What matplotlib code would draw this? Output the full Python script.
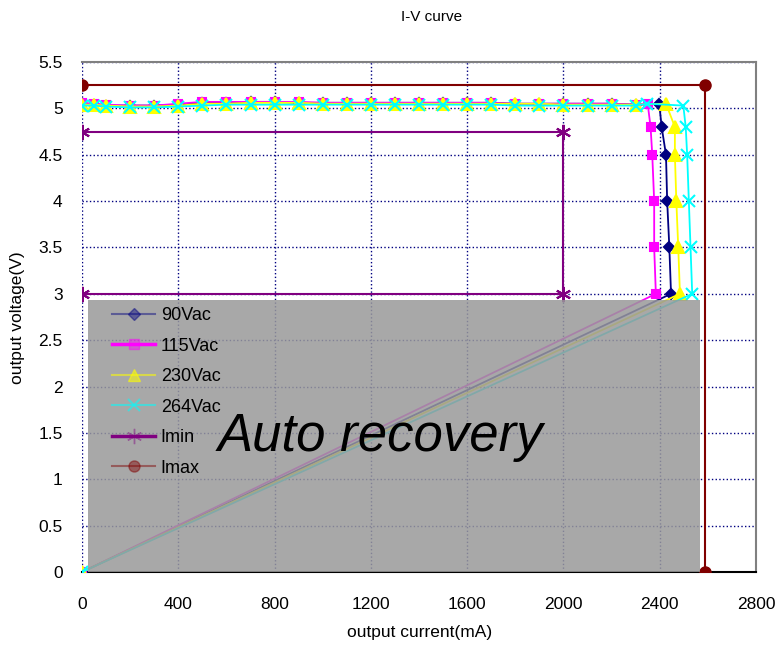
import matplotlib
matplotlib.use('Agg')
import matplotlib.pyplot as plt
from matplotlib.patches import Rectangle
from matplotlib.lines import Line2D

plt.rcParams['font.family'] = ['Liberation Sans', 'DejaVu Sans']

# 平台段电流点 (mA)
flat_x = [0, 50, 100, 200, 300, 400, 500, 600, 700, 800, 900, 1000, 1100, 1200,
          1300, 1400, 1500, 1600, 1700, 1800, 1900, 2000, 2100, 2200, 2300]

v90_flat = [5.05, 5.04, 5.03, 5.03, 5.03, 5.04, 5.06, 5.06, 5.07, 5.07, 5.06, 5.06, 5.06,
            5.06, 5.06, 5.06, 5.06, 5.06, 5.06, 5.05, 5.05, 5.05, 5.05, 5.05, 5.04]
v115_flat = [5.06, 5.05, 5.04, 5.03, 5.03, 5.05, 5.07, 5.07, 5.07, 5.07, 5.07, 5.06, 5.06,
             5.06, 5.06, 5.06, 5.06, 5.06, 5.06, 5.05, 5.05, 5.05, 5.05, 5.05, 5.04]
v230_flat = [5.04, 5.04, 5.03, 5.02, 5.02, 5.03, 5.05, 5.05, 5.06, 5.06, 5.06, 5.05, 5.05,
             5.05, 5.05, 5.05, 5.05, 5.05, 5.05, 5.05, 5.05, 5.04, 5.04, 5.04, 5.04]
v264_flat = [5.03, 5.03, 5.02, 5.01, 5.01, 5.02, 5.03, 5.04, 5.04, 5.04, 5.04, 5.04, 5.04,
             5.04, 5.04, 5.04, 5.04, 5.04, 5.04, 5.03, 5.03, 5.03, 5.03, 5.03, 5.03]

# 拐点段 + 回到原点
i90_knee = [2398, 2408, 2426, 2431, 2440, 2447, 0]
v90_knee = [5.05, 4.8, 4.5, 4.0, 3.5, 3.0, 0]
i115_knee = [2350, 2362, 2369, 2377, 2377, 2384, 0]
v115_knee = [5.05, 4.8, 4.5, 4.0, 3.5, 3.0, 0]
i230_knee = [2426, 2463, 2463, 2469, 2477, 2484, 0]
v230_knee = [5.05, 4.8, 4.5, 4.0, 3.5, 3.0, 0]
i264_knee = [2348, 2498, 2508, 2514, 2521, 2528, 2535, 0]
v264_knee = [5.05, 5.03, 4.8, 4.5, 4.0, 3.5, 3.0, 0]

imin_x = [0, 2000, 2000, 0]
imin_y = [4.75, 4.75, 3.0, 3.0]
imax_x = [0, 2590, 2590]
imax_y = [5.25, 5.25, 0]

x_ticks = [0, 400, 800, 1200, 1600, 2000, 2400, 2800]
y_ticks = [0, 0.5, 1, 1.5, 2, 2.5, 3, 3.5, 4, 4.5, 5, 5.5]
y_labels = ['0', '0.5', '1', '1.5', '2', '2.5', '3', '3.5', '4', '4.5', '5', '5.5']

W, H = 780, 646
fig = plt.figure(figsize=(W / 100, H / 100), dpi=100)
ax = fig.add_axes([82 / W, (H - 572) / H, (756 - 82) / W, (572 - 62) / H])

series = [
    ('90Vac', v90_flat, i90_knee, v90_knee, '#000080', 'D', 5.5),
    ('115Vac', v115_flat, i115_knee, v115_knee, '#FF00FF', 's', 6),
    ('230Vac', v230_flat, i230_knee, v230_knee, '#FFFF00', '^', 8.5),
    ('264Vac', v264_flat, i264_knee, v264_knee, '#00FFFF', 'x', 8.5),
]
for name, vf, ik, vk, c, m, ms in series:
    xs = flat_x + ik
    ys = vf + vk
    ax.plot(xs, ys, color=c, marker=m, markersize=ms, lw=1.3, mew=1.5, zorder=3)

ax.plot(imin_x, imin_y, color='#800080', marker=(6, 2, 0), markersize=11, mew=1.5,
        lw=1.5, zorder=3)
ax.plot(imax_x, imax_y, color='#800000', marker='o', markersize=8, lw=1.5, zorder=3)

# 灰色遮罩
ax.add_patch(Rectangle((25, 0), 2542, 2.93, facecolor='#999999', edgecolor='none',
                       alpha=0.85, zorder=4))

ax.set_xlim(0, 2800)
ax.set_ylim(0, 5.5)
ax.set_xticks(x_ticks)
ax.set_yticks(y_ticks)
ax.set_yticklabels(y_labels)
ax.tick_params(length=0, labelsize=12.5)
ax.tick_params(axis='x', pad=18)
ax.tick_params(axis='y', pad=14)
ax.grid(True, color='#000080', linestyle=':', lw=1)
ax.set_axisbelow(True)

for s in ['top', 'right']:
    ax.spines[s].set_color('#808080')
    ax.spines[s].set_linewidth(1.5)
ax.spines['left'].set_visible(False)
ax.spines['bottom'].set_color('black')
ax.spines['bottom'].set_linewidth(1.5)

fig.text(432 / W, 1 - 17 / H, 'I-V curve', ha='center', va='center', fontsize=11)
fig.text(420 / W, 1 - 633 / H, 'output current(mA)', ha='center', va='center', fontsize=12.5)
fig.text(18 / W, 1 - 318 / H, 'output voltage(V)', ha='center', va='center',
         rotation=90, fontsize=12.5)

# 图例（淡化）
fa = 0.45
handles = [
    Line2D([], [], color='#000080', marker='D', markersize=6, lw=1.5, alpha=fa),
    (Line2D([], [], color='#FF00FF', lw=2.5),
     Line2D([], [], color='#FF00FF', marker='s', markersize=7, lw=0, alpha=fa)),
    Line2D([], [], color='#FFFF00', marker='^', markersize=9, lw=1.5, alpha=0.55),
    Line2D([], [], color='#00FFFF', marker='x', markersize=9, mew=1.5, lw=1.5, alpha=0.55),
    (Line2D([], [], color='#800080', lw=2.5),
     Line2D([], [], color='#800080', marker=(6, 2, 0), markersize=11, lw=0, alpha=fa)),
    Line2D([], [], color='#800000', marker='o', markersize=8, lw=1.5, alpha=fa),
]
labels = ['90Vac', '115Vac', '230Vac', '264Vac', 'Imin', 'Imax']
leg = ax.legend(handles, labels, loc='upper left',
                bbox_to_anchor=(112 / W, 1 - 307 / H), bbox_transform=fig.transFigure,
                frameon=False, fontsize=13, handlelength=2.4, handletextpad=0.3,
                labelspacing=0.75, borderpad=0, borderaxespad=0)
leg.set_zorder(6)

fig.text(380 / W, 1 - 437 / H, 'Auto recovery', fontsize=38, style='italic',
         ha='center', va='center', zorder=7)

fig.savefig('out.png', dpi=100)
